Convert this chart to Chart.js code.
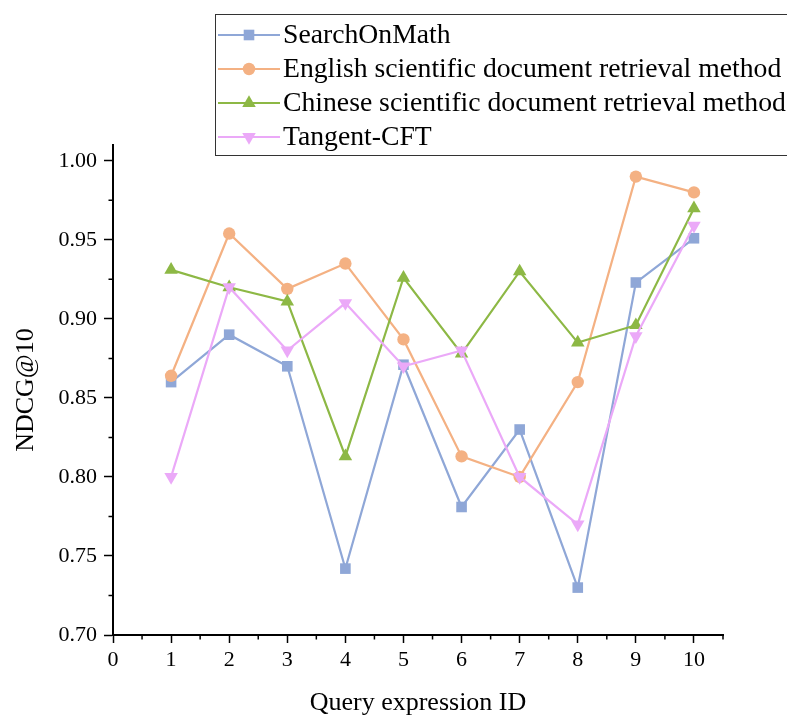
<!DOCTYPE html>
<html><head><meta charset="utf-8">
<script src="https://cdn.jsdelivr.net/npm/chart.js@4.4.1/dist/chart.umd.min.js"></script>
<style>html,body{margin:0;padding:0;background:#fff;}#wrap{width:787px;height:716px;}</style>
</head><body><div id="wrap"><canvas id="c" width="787" height="716"></canvas></div>
<script>
const queryIds = [1, 2, 3, 4, 5, 6, 7, 8, 9, 10];
const searchOnMath = [0.860, 0.890, 0.870, 0.742, 0.871, 0.781, 0.830, 0.730, 0.923, 0.951];
const englishMethod = [0.864, 0.954, 0.919, 0.935, 0.887, 0.813, 0.800, 0.860, 0.990, 0.980];
const chineseMethod = [0.931, 0.920, 0.911, 0.813, 0.926, 0.878, 0.930, 0.885, 0.896, 0.970];
const tangentCFT = [0.800, 0.920, 0.880, 0.910, 0.870, 0.880, 0.800, 0.770, 0.889, 0.959];
const seriesNames = ['SearchOnMath', 'English scientific document retrieval method', 'Chinese scientific document retrieval method', 'Tangent-CFT'];
const xTickValues = [0, 1, 2, 3, 4, 5, 6, 7, 8, 9, 10];
const yTickValues = [0.70, 0.75, 0.80, 0.85, 0.90, 0.95, 1.00];
const xTitle = 'Query expression ID';
const yTitle = 'NDCG@10';

const FONT = '"Liberation Serif", "Times New Roman", serif';
const colors = ['#8FA7D7', '#F4B183', '#8DB845', '#EBA9F8'];
const styles = [
  {pointStyle: 'rect', radius: 7.5, rotation: 0},
  {pointStyle: 'circle', radius: 6.2, rotation: 0},
  {pointStyle: 'triangle', radius: 7.8, rotation: 0},
  {pointStyle: 'triangle', radius: 7.8, rotation: 180}
];
const seriesValues = [searchOnMath, englishMethod, chineseMethod, tangentCFT];

const datasets = seriesValues.map((vals, i) => ({
  label: seriesNames[i],
  data: queryIds.map((x, j) => ({x: x, y: vals[j]})),
  borderColor: colors[i],
  backgroundColor: colors[i],
  borderWidth: 2.2,
  pointStyle: styles[i].pointStyle,
  pointRadius: styles[i].radius,
  pointRotation: styles[i].rotation,
  pointBorderWidth: 0,
  pointBackgroundColor: colors[i],
  tension: 0,
  order: 3 - i
}));

function drawMarker(ctx, style, color, x, y) {
  const r = style.radius;
  ctx.save();
  ctx.fillStyle = color;
  ctx.beginPath();
  if (style.pointStyle === 'rect') {
    const s = Math.SQRT1_2 * r;
    ctx.rect(x - s, y - s, 2 * s, 2 * s);
  } else if (style.pointStyle === 'circle') {
    ctx.arc(x, y, r, 0, Math.PI * 2);
  } else {
    let rad = style.rotation * Math.PI / 180;
    for (let k = 0; k < 3; k++) {
      const px = x + Math.sin(rad) * r, py = y - Math.cos(rad) * r;
      if (k === 0) ctx.moveTo(px, py); else ctx.lineTo(px, py);
      rad += 2 * Math.PI / 3;
    }
    ctx.closePath();
  }
  ctx.fill();
  ctx.restore();
}

const extras = {
  id: 'extras',
  afterDraw(chart) {
    const ctx = chart.ctx;
    const xs = chart.scales.x, ys = chart.scales.y;
    ctx.save();
    ctx.strokeStyle = '#000';
    ctx.lineWidth = 1.5;
    ctx.beginPath();
    for (let v = 0.5; v <= 10.5; v += 1) {
      const px = xs.getPixelForValue(v);
      ctx.moveTo(px, xs.top); ctx.lineTo(px, xs.top + 4.5);
    }
    for (let v = 0.725; v < 1.0; v += 0.05) {
      const py = ys.getPixelForValue(v);
      ctx.moveTo(ys.right, py); ctx.lineTo(ys.right - 4.5, py);
    }
    ctx.stroke();
    // legend
    ctx.fillStyle = '#fff';
    ctx.fillRect(215.5, 14.5, 600, 141);
    ctx.strokeStyle = '#333';
    ctx.lineWidth = 1;
    ctx.strokeRect(215.5, 14.5, 600, 141);
    ctx.font = '27.7px ' + FONT;
    ctx.textBaseline = 'middle';
    ctx.textAlign = 'left';
    for (let i = 0; i < seriesNames.length; i++) {
      const cy = 35 + i * 34;
      ctx.strokeStyle = colors[i];
      ctx.lineWidth = 2;
      ctx.beginPath();
      ctx.moveTo(218, cy); ctx.lineTo(280, cy);
      ctx.stroke();
      drawMarker(ctx, styles[i], colors[i], 249, cy);
      ctx.fillStyle = '#000';
      ctx.fillText(seriesNames[i], 283, cy + 1);
    }
    ctx.restore();
  }
};

new Chart(document.getElementById('c'), {
  type: 'line',
  data: {datasets: datasets},
  plugins: [extras],
  options: {
    responsive: false,
    animation: false,
    devicePixelRatio: 1,
    layout: {padding: {left: 0, top: 145, right: 64, bottom: 0}},
    plugins: {legend: {display: false}, tooltip: {enabled: false}},
    scales: {
      x: {
        type: 'linear', position: 'bottom', min: 0, max: 10.5,
        afterBuildTicks: s => { s.ticks = xTickValues.map(v => ({value: v})); },
        afterFit: s => { s.height = 81; },
        grid: {display: true, drawOnChartArea: false, drawTicks: true, tickLength: 8, tickColor: '#000', tickWidth: 1.5},
        border: {display: true, color: '#000', width: 2},
        ticks: {color: '#000', font: {family: FONT, size: 22}, padding: 4, maxRotation: 0, autoSkip: false,
          callback: v => String(v)},
        title: {display: true, text: xTitle, color: '#000', font: {family: FONT, size: 26, lineHeight: 1}, padding: {top: 0, bottom: 0}}
      },
      y: {
        type: 'linear', min: 0.70, max: 1.01,
        afterBuildTicks: s => { s.ticks = yTickValues.map(v => ({value: v})); },
        afterFit: s => { s.width = 113; },
        grid: {display: true, drawOnChartArea: false, drawTicks: true, tickLength: 9, tickColor: '#000', tickWidth: 1.5},
        border: {display: true, color: '#000', width: 2},
        ticks: {color: '#000', font: {family: FONT, size: 22}, padding: 7,
          callback: v => Number(v).toFixed(2)},
        title: {display: true, text: yTitle, color: '#000', font: {family: FONT, size: 26, lineHeight: 1}, padding: {top: 13, bottom: 0}}
      }
    }
  }
});
</script>
</body></html>
